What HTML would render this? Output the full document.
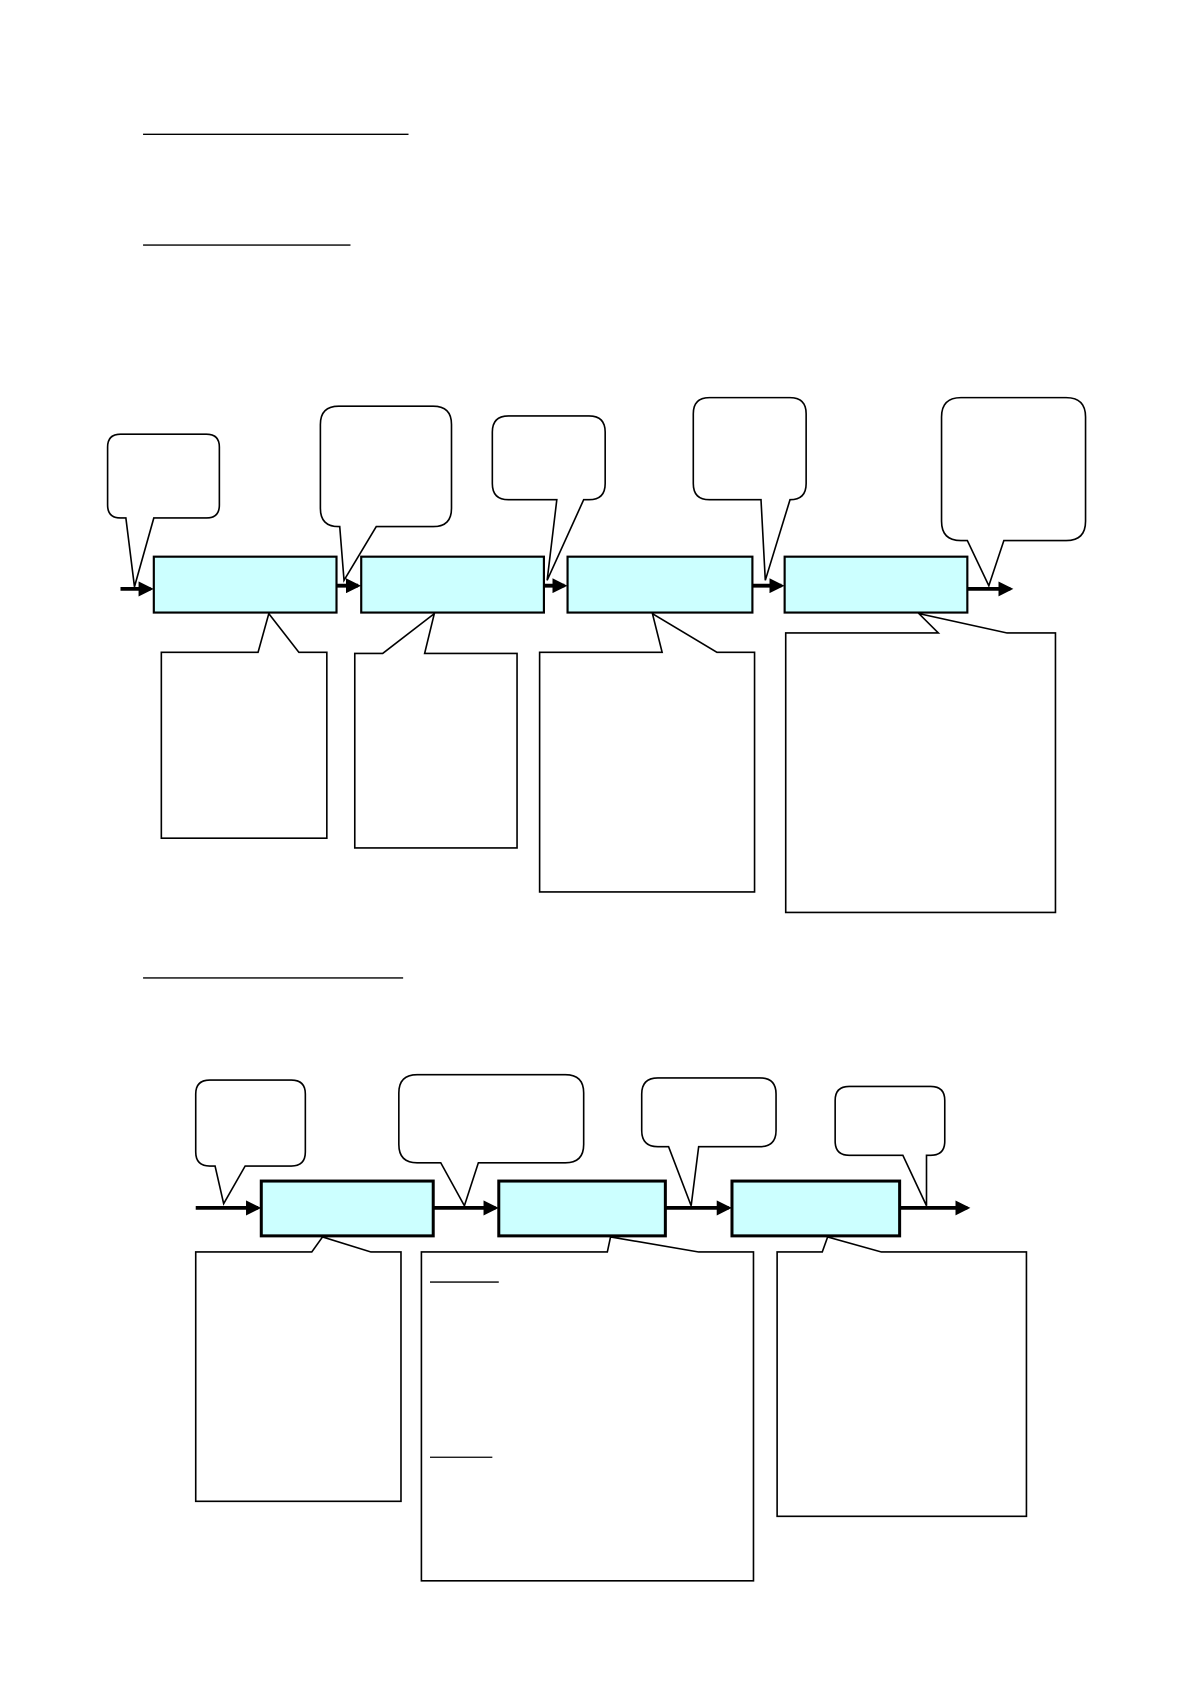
<!DOCTYPE html>
<html><head><meta charset="utf-8"><style>
html,body{margin:0;padding:0;background:#fff;}
svg{display:block;}
</style></head><body>
<svg width="1191" height="1684" viewBox="0 0 1108 1567" xmlns="http://www.w3.org/2000/svg">
<defs>
<marker id="ah" markerWidth="4" markerHeight="4" refX="3.2" refY="2" orient="auto" markerUnits="strokeWidth">
<path d="M0,0 L4,2 L0,4 z" fill="#000"/>
</marker>
</defs>
<g stroke="#000" stroke-width="1.3">
<line x1="133" y1="125" x2="380" y2="125"/>
<line x1="133" y1="228" x2="326" y2="228"/>
<line x1="133" y1="910" x2="375" y2="910"/>
</g>
<g fill="#fff" stroke="#000" stroke-width="1.5" stroke-linejoin="miter">
<path d="M112,404 H192 Q204,404 204,416 V470 Q204,482 192,482 H143 L125,546 L117,482 H112 Q100,482 100,470 V416 Q100,404 112,404 Z"/>
<path d="M315,378 H403 Q420,378 420,395 V473 Q420,490 403,490 H350 L320,540 L316,490 H315 Q298,490 298,473 V395 Q298,378 315,378 Z"/>
<path d="M473,387 H548 Q563,387 563,402 V450 Q563,465 548,465 H543 L509,540 L518,465 H473 Q458,465 458,450 V402 Q458,387 473,387 Z"/>
<path d="M660,370 H735 Q750,370 750,385 V450 Q750,465 735,465 H735 L712,540 L708,465 H660 Q645,465 645,450 V385 Q645,370 660,370 Z"/>
<path d="M894,370 H992 Q1010,370 1010,388 V485 Q1010,503 992,503 H934 L920,545 L900,503 H894 Q876,503 876,485 V388 Q876,370 894,370 Z"/>
<path d="M150,607 H240 L250,571 L278,607 H304 V780 H150 Z"/>
<path d="M330,608 H356 L404,571 L395,608 H481 V789 H330 Z"/>
<path d="M502,607 H616 L607,571 L667,607 H702 V830 H502 Z"/>
<path d="M731,589 H873 L855,571 L937,589 H982 V849 H731 Z"/>
<path d="M195,1005 H271 Q284,1005 284,1018 V1072 Q284,1085 271,1085 H228 L208,1120 L200,1085 H195 Q182,1085 182,1072 V1018 Q182,1005 195,1005 Z"/>
<path d="M388,1000 H526 Q543,1000 543,1017 V1065 Q543,1082 526,1082 H445 L432,1122 L410,1082 H388 Q371,1082 371,1065 V1017 Q371,1000 388,1000 Z"/>
<path d="M612,1003 H707 Q722,1003 722,1018 V1052 Q722,1067 707,1067 H650 L643,1122 L622,1067 H612 Q597,1067 597,1052 V1018 Q597,1003 612,1003 Z"/>
<path d="M790,1011 H866 Q879,1011 879,1024 V1062 Q879,1075 866,1075 H862 L862,1122 L840,1075 H790 Q777,1075 777,1062 V1024 Q777,1011 790,1011 Z"/>
<path d="M182,1165 H290 L300,1151 L345,1165 H373 V1397 H182 Z"/>
<path d="M392,1165 H565 L568,1151 L650,1165 H701 V1471 H392 Z"/>
<path d="M723,1165 H765 L770,1151 L820,1165 H955 V1411 H723 Z"/>
</g>
<g stroke="#000" stroke-width="1.2">
<line x1="400" y1="1193" x2="464" y2="1193"/>
<line x1="400" y1="1356" x2="458" y2="1356"/>
</g>
<g stroke="#000" stroke-width="3.5" marker-end="url(#ah)" fill="none">
<line x1="112" y1="548" x2="140" y2="548"/>
<line x1="313" y1="545" x2="333" y2="545"/>
<line x1="506" y1="545" x2="525" y2="545"/>
<line x1="700" y1="545" x2="727" y2="545"/>
<line x1="900" y1="548" x2="940" y2="548"/>
<line x1="182" y1="1124" x2="240" y2="1124"/>
<line x1="403" y1="1124" x2="461" y2="1124"/>
<line x1="619" y1="1124" x2="678" y2="1124"/>
<line x1="837" y1="1124" x2="900" y2="1124"/>
</g>
<g fill="#ccffff" stroke="#000" stroke-width="2">
<rect x="143" y="518" width="170" height="52"/>
<rect x="336" y="518" width="170" height="52"/>
<rect x="528" y="518" width="172" height="52"/>
<rect x="730" y="518" width="170" height="52"/>
</g>
<g fill="#ccffff" stroke="#000" stroke-width="2.8">
<rect x="243" y="1099" width="160" height="51"/>
<rect x="464" y="1099" width="155" height="51"/>
<rect x="681" y="1099" width="156" height="51"/>
</g>
</svg>
</body></html>
